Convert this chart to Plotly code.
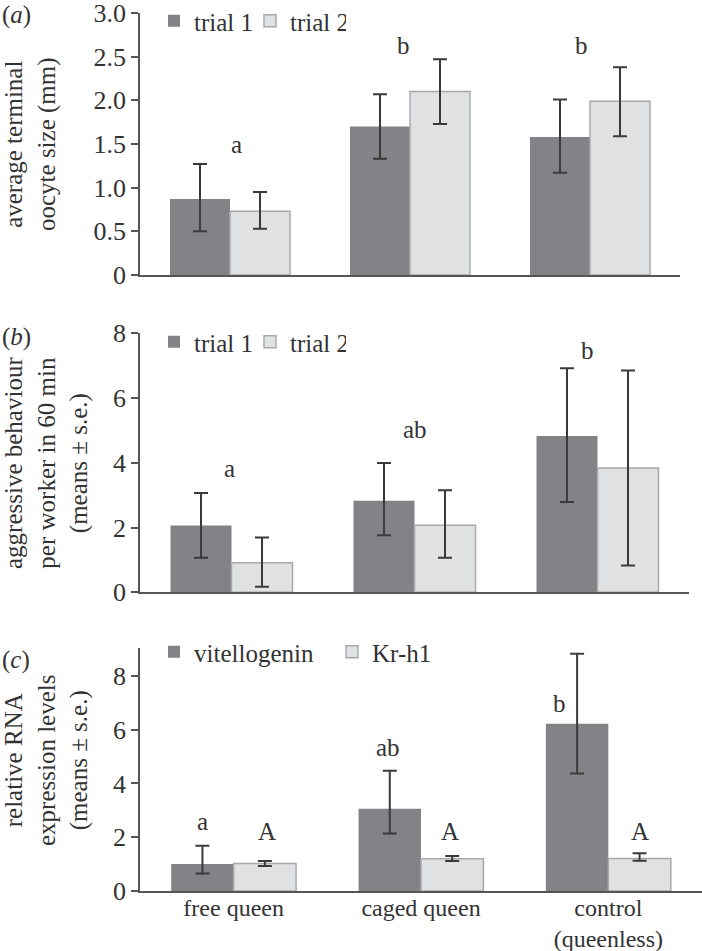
import plotly.graph_objects as go

# ---------------- data ----------------
groups = ["free queen", "caged queen", "control<br>(queenless)"]

# (a) average terminal oocyte size (mm)
oocyte_trial1 = [0.87, 1.70, 1.58]
oocyte_trial1_hi = [1.27, 2.07, 2.01]
oocyte_trial1_lo = [0.50, 1.33, 1.17]
oocyte_trial2 = [0.73, 2.10, 1.99]
oocyte_trial2_hi = [0.95, 2.47, 2.38]
oocyte_trial2_lo = [0.53, 1.73, 1.59]
oocyte_letters = ["a", "b", "b"]
oocyte_letter_y = [1.49, 2.63, 2.63]
oocyte_tickvals = [0, 0.5, 1.0, 1.5, 2.0, 2.5, 3.0]
oocyte_ticktext = ["0", "0.5", "1.0", "1.5", "2.0", "2.5", "3.0"]

# (b) aggressive behaviour per worker in 60 min
aggr_trial1 = [2.06, 2.83, 4.83]
aggr_trial1_hi = [3.07, 3.99, 6.92]
aggr_trial1_lo = [1.07, 1.76, 2.79]
aggr_trial2 = [0.91, 2.07, 3.84]
aggr_trial2_hi = [1.69, 3.15, 6.85]
aggr_trial2_lo = [0.17, 1.07, 0.83]
aggr_letters = ["a", "ab", "b"]
aggr_letter_y = [3.83, 5.03, 7.48]
aggr_tickvals = [0, 2, 4, 6, 8]

# (c) relative RNA expression levels
vit = [1.00, 3.06, 6.22]
vit_hi = [1.68, 4.47, 8.83]
vit_lo = [0.65, 2.14, 4.37]
krh1 = [1.02, 1.20, 1.21]
krh1_hi = [1.12, 1.30, 1.40]
krh1_lo = [0.93, 1.12, 1.13]
vit_letters = ["a", "ab", "b"]
vit_letter_y = [2.57, 5.33, 6.97]
krh1_letters = ["A", "A", "A"]
krh1_letter_y = [2.2, 2.2, 2.2]
rna_tickvals = [0, 2, 4, 6, 8]

y_titles = ["average terminal<br>oocyte size (mm)",
            "aggressive behaviour<br>per worker in 60 min<br>(means ± s.e.)",
            "relative RNA<br>expression levels<br>(means ± s.e.)"]

# ---------------- style ----------------
DARK = "#838387"
LIGHT = "#e0e1e3"
LIGHT_EDGE = "#a9a9a9"
ERR = "#3a3a3a"
AXIS = "#555555"
TXT = "#333333"
FONT = "Liberation Serif, Times New Roman, serif"
FS = 25
W, H = 702, 951

# horizontal pixel nudges of the significance letters
oocyte_letter_dx = [6, -7, -9]
aggr_letter_dx = [-2, 0, -10]
vit_letter_dx = [-31, -33, -49]
krh1_letter_dx = [33, 29, 32]


def err(vals, hi, lo):
    return dict(
        type="data", symmetric=False,
        array=[h - v for v, h in zip(vals, hi)],
        arrayminus=[v - l for v, l in zip(vals, lo)],
        color=ERR, thickness=2, width=7,
    )


def bar(name, vals, hi, lo, dark, xa, ya, legend):
    return go.Bar(
        name=name, x=groups, y=vals, xaxis=xa, yaxis=ya,
        marker=dict(color=DARK if dark else LIGHT,
                    line=dict(color=DARK if dark else LIGHT_EDGE, width=0 if dark else 1.5)),
        error_y=err(vals, hi, lo), legend=legend,
    )


fig = go.Figure()
fig.add_trace(bar("trial 1", oocyte_trial1, oocyte_trial1_hi, oocyte_trial1_lo, True, "x", "y", "legend"))
fig.add_trace(bar("trial 2", oocyte_trial2, oocyte_trial2_hi, oocyte_trial2_lo, False, "x", "y", "legend"))
fig.add_trace(bar("trial 1", aggr_trial1, aggr_trial1_hi, aggr_trial1_lo, True, "x2", "y2", "legend2"))
fig.add_trace(bar("trial 2", aggr_trial2, aggr_trial2_hi, aggr_trial2_lo, False, "x2", "y2", "legend2"))
fig.add_trace(bar("vitellogenin", vit, vit_hi, vit_lo, True, "x3", "y3", "legend3"))
fig.add_trace(bar("Kr-h1", krh1, krh1_hi, krh1_lo, False, "x3", "y3", "legend3"))


def px_y(p):
    return 1 - p / H


def px_x(p):
    return p / W


xcommon = dict(type="category", categoryorder="array", categoryarray=groups,
               range=[-0.5, 2.5], showline=True, linecolor=AXIS, linewidth=1.5,
               ticks="", ticklen=0, showgrid=False, zeroline=False, automargin=False,
               tickfont=dict(family=FONT, size=24, color=TXT))
ycommon = dict(showline=True, linecolor=AXIS, linewidth=1.5, ticks="outside",
               ticklen=7, tickwidth=1.5, tickcolor=AXIS, showgrid=False, zeroline=False,
               tickfont=dict(family=FONT, size=26, color=TXT), automargin=False,
               ticklabeloverflow="allow")

legcommon = dict(orientation="h", xanchor="left", yanchor="middle",
                 font=dict(family=FONT, size=FS, color=TXT), bgcolor="rgba(0,0,0,0)",
                 traceorder="normal", itemclick=False, itemdoubleclick=False)

fig.update_layout(
    width=W, height=H, margin=dict(l=0, r=0, t=0, b=0, autoexpand=False),
    paper_bgcolor="white", plot_bgcolor="white",
    barmode="group", bargap=1/3, bargroupgap=0,
    font=dict(family=FONT, size=FS, color=TXT),
    xaxis=dict(xcommon, domain=[px_x(140), px_x(680)], anchor="y", showticklabels=False),
    xaxis2=dict(xcommon, domain=[px_x(140), px_x(689)], anchor="y2", showticklabels=False),
    xaxis3=dict(xcommon, domain=[px_x(140), 1.0], anchor="y3", showticklabels=True,
                ticklabelstandoff=-6),
    yaxis=dict(ycommon, domain=[px_y(275), px_y(13)], range=[0, 3.0], anchor="x",
               tickvals=oocyte_tickvals, ticktext=oocyte_ticktext),
    yaxis2=dict(ycommon, domain=[px_y(592.3), px_y(333.3)], range=[0, 8], anchor="x2",
                tickvals=aggr_tickvals),
    yaxis3=dict(ycommon, domain=[px_y(891), px_y(648.3)], range=[0, 9.03], anchor="x3",
                tickvals=rna_tickvals),
    legend=dict(legcommon, x=px_x(154), y=px_y(21), entrywidth=51),
    legend2=dict(legcommon, x=px_x(154), y=px_y(342), entrywidth=51),
    legend3=dict(legcommon, x=px_x(154), y=px_y(652), entrywidth=133),
    showlegend=True,
)

ann = []
for xa, ya, letters, ys, dxs in [
    ("x", "y", oocyte_letters, oocyte_letter_y, oocyte_letter_dx),
    ("x2", "y2", aggr_letters, aggr_letter_y, aggr_letter_dx),
    ("x3", "y3", vit_letters, vit_letter_y, vit_letter_dx),
    ("x3", "y3", krh1_letters, krh1_letter_y, krh1_letter_dx),
]:
    for g, t, yy, dx in zip(groups, letters, ys, dxs):
        ann.append(dict(x=g, y=yy, xref=xa, yref=ya, text=t, showarrow=False,
                        xshift=dx, font=dict(family=FONT, size=FS, color=TXT)))

for lab, yp in [("a", 15), ("b", 337), ("c", 660)]:
    ann.append(dict(x=0, y=px_y(yp), xref="paper", yref="paper", xanchor="left",
                    yanchor="middle", text=f"(<i>{lab}</i>)", showarrow=False,
                    font=dict(family=FONT, size=FS, color=TXT)))

# y-axis titles (rotated)
for title, (xc, yc) in zip(y_titles, [(31, 144), (46, 463), (46, 761)]):
    ann.append(dict(x=px_x(xc), y=px_y(yc), xref="paper", yref="paper",
                    xanchor="center", yanchor="middle", textangle=-90,
                    text=title, showarrow=False,
                    font=dict(family=FONT, size=FS, color=TXT)))

fig.update_layout(annotations=ann)

# remove the browser's default page margin so the figure sits at (0, 0)
fig.write_html("out.html", config={"displayModeBar": False},
               post_script="document.body.style.margin='0px';")
